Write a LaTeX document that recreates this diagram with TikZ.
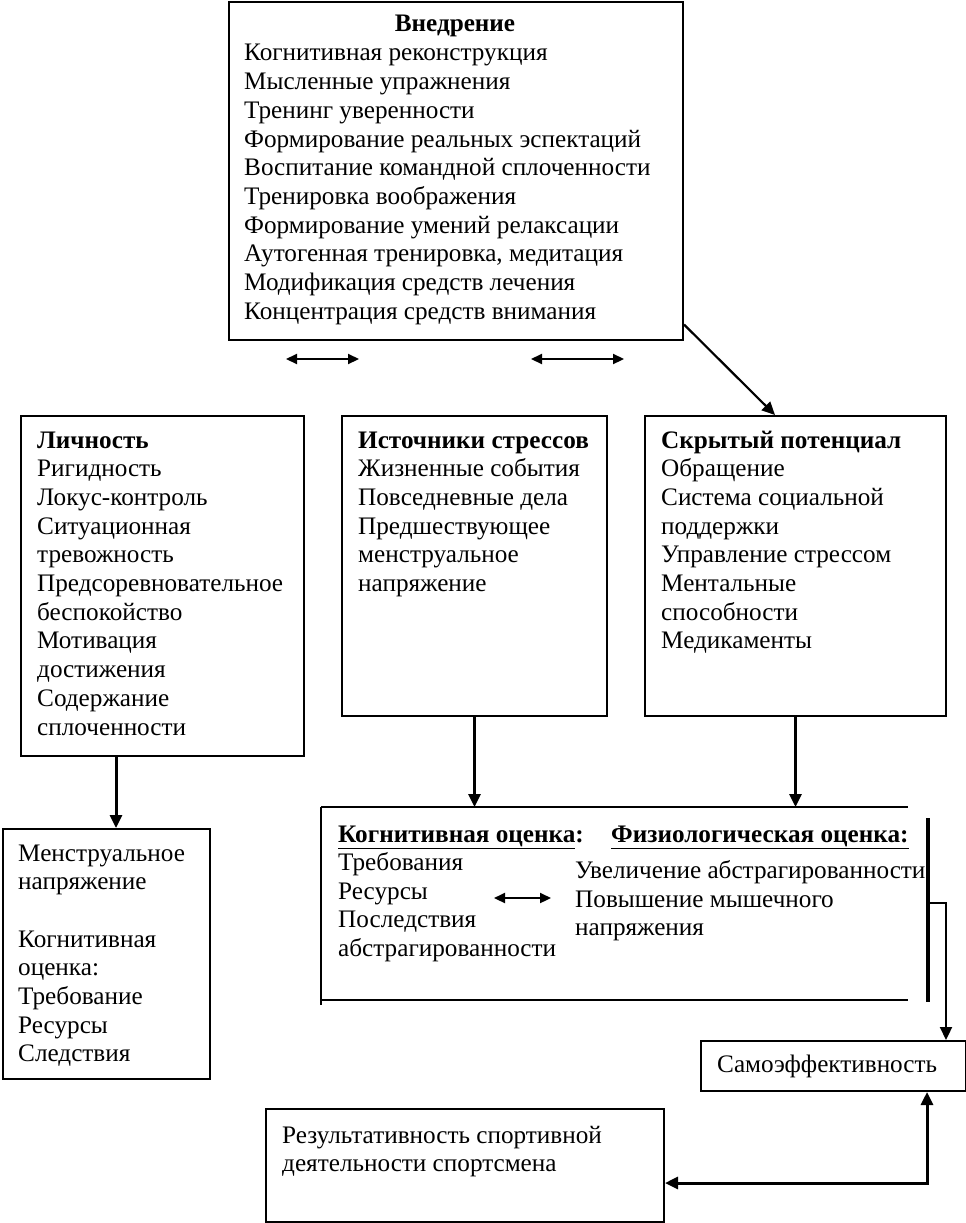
\documentclass[tikz,border=0pt]{standalone}
\usepackage{fontspec}
\setmainfont{Liberation Serif}
\usetikzlibrary{arrows.meta}
\newcommand\txtlines[1]{\vtop{\halign{##\hfil\cr#1\crcr}}}
\begin{document}
\begin{tikzpicture}[x=1pt,y=-1pt,
  box/.style={draw, line width=2pt, inner sep=0pt, anchor=north west},
  lbl/.style={anchor=base west, inner sep=0pt, font=\fontsize{25.2}{28.7}\selectfont},
  hd/.style={lbl, font=\fontsize{25.2}{28.7}\selectfont\bfseries},
  conn/.style={line width=3pt, -{Triangle[length=13pt,width=12pt]}},
  dbl/.style={line width=2.2pt, {Triangle[length=11pt,width=10pt]}-{Triangle[length=11pt,width=10pt]}},
  thinline/.style={line width=2pt},
  thickline/.style={line width=3.5pt}]
\useasboundingbox (0,0) rectangle (966,1223);

% boxes
\node[box, minimum width=454pt, minimum height=337pt] (vn) at (228,1.5) {};
\node[box, minimum width=283pt, minimum height=340pt] (lich) at (20,415) {};
\node[box, minimum width=265pt, minimum height=300pt] (ist) at (341,415) {};
\node[box, minimum width=301pt, minimum height=300pt] (skr) at (644,415) {};
\node[box, minimum width=207pt, minimum height=250pt] (mens) at (2,828) {};
\node[box, minimum width=265pt, minimum height=50pt] (samo) at (700,1040) {};
\node[box, minimum width=398pt, minimum height=113pt] (res) at (265,1108) {};

% open middle box
\coordinate (mTL) at (321,807);
\coordinate (mTR) at (908,807);
\coordinate (mBL) at (321,1000);
\coordinate (mBR) at (908,1000);
\coordinate (mLend) at (321,1005);
\coordinate (rvTop) at (928,818);
\coordinate (rvBot) at (928,1002);
\coordinate (rvMid) at (928,903);
\coordinate (rvCorner) at (946,903);
\draw[thinline] (mTL) -- (mTR);
\draw[thinline] (mBL) -- (mBR);
\draw[thinline] (mTL) -- (mLend);
\draw[thickline] (rvTop) -- (rvBot);

% texts
\node[hd, anchor=base] (t0) at (455,32) {Внедрение};
\node[lbl] (t1) at (244,61) {\txtlines{Когнитивная реконструкция\cr
Мысленные упражнения\cr
Тренинг уверенности\cr
Формирование реальных эспектаций\cr
Воспитание командной сплоченности\cr
Тренировка воображения\cr
Формирование умений релаксации\cr
Аутогенная тренировка, медитация\cr
Модификация средств лечения\cr
Концентрация средств внимания}};

\node[hd] (l0) at (37,448) {Личность};
\node[lbl] (l1) at (37,476.7) {\txtlines{Ригидность\cr
Локус-контроль\cr
Ситуационная\cr
тревожность\cr
Предсоревновательное\cr
беспокойство\cr
Мотивация\cr
достижения\cr
Содержание\cr
сплоченности}};

\node[hd] (i0) at (358,448) {Источники стрессов};
\node[lbl] (i1) at (358,476.7) {\txtlines{Жизненные события\cr
Повседневные дела\cr
Предшествующее\cr
менструальное\cr
напряжение}};

\node[hd] (s0) at (661,448) {Скрытый потенциал};
\node[lbl] (s1) at (661,476.7) {\txtlines{Обращение\cr
Система социальной\cr
поддержки\cr
Управление стрессом\cr
Ментальные\cr
способности\cr
Медикаменты}};

\node[hd] (k0) at (338,842) {\underline{Когнитивная оценка}:};
\node[lbl] (k1) at (338,870.5) {\txtlines{Требования\cr
Ресурсы\cr
Последствия\cr
абстрагированности}};
\node[hd] (f0) at (611,842) {\underline{Физиологическая оценка:}};
\node[lbl] (f1) at (575,878.5) {\txtlines{Увеличение абстрагированности\cr
Повышение мышечного\cr
напряжения}};

\node[lbl] (m1) at (18,861) {\txtlines{Менструальное\cr
напряжение\cr
\cr
Когнитивная\cr
оценка:\cr
Требование\cr
Ресурсы\cr
Следствия}};

\node[lbl] (se) at (717,1072) {Самоэффективность};
\node[lbl] (r1) at (282,1143) {\txtlines{Результативность спортивной\cr
деятельности спортсмена}};

% connectors
\coordinate (da1a) at (286,359);
\coordinate (da1b) at (359,359);
\coordinate (da2a) at (531,359);
\coordinate (da2b) at (624,359);
\coordinate (da3a) at (494,898);
\coordinate (da3b) at (551,898);
\draw[dbl] (da1a) -- (da1b);
\draw[dbl] (da2a) -- (da2b);
\draw[dbl] (da3a) -- (da3b);

\draw[line width=2.2pt, -{Triangle[length=13pt,width=12pt]}] ([yshift=16pt]vn.south east) -- ([xshift=131pt]skr.north west);
\draw[conn] ([xshift=-46.5pt]lich.south) -- ([xshift=-46.5pt]lich.south |- mens.north);
\draw[conn] (ist.south) -- (ist.south |- mTL);
\draw[conn] (skr.south) -- (skr.south |- mTL);
\draw[line width=2.2pt, -{Triangle[length=13pt,width=12pt]}] (rvMid) -- (rvCorner) -- (rvCorner |- samo.north);
\coordinate (bc) at (927,1183);
\draw[conn, {Triangle[length=13pt,width=12pt]}-{Triangle[length=13pt,width=12pt]}] (bc |- samo.south) -- (bc) -- (bc -| res.east);
\end{tikzpicture}
\end{document}
